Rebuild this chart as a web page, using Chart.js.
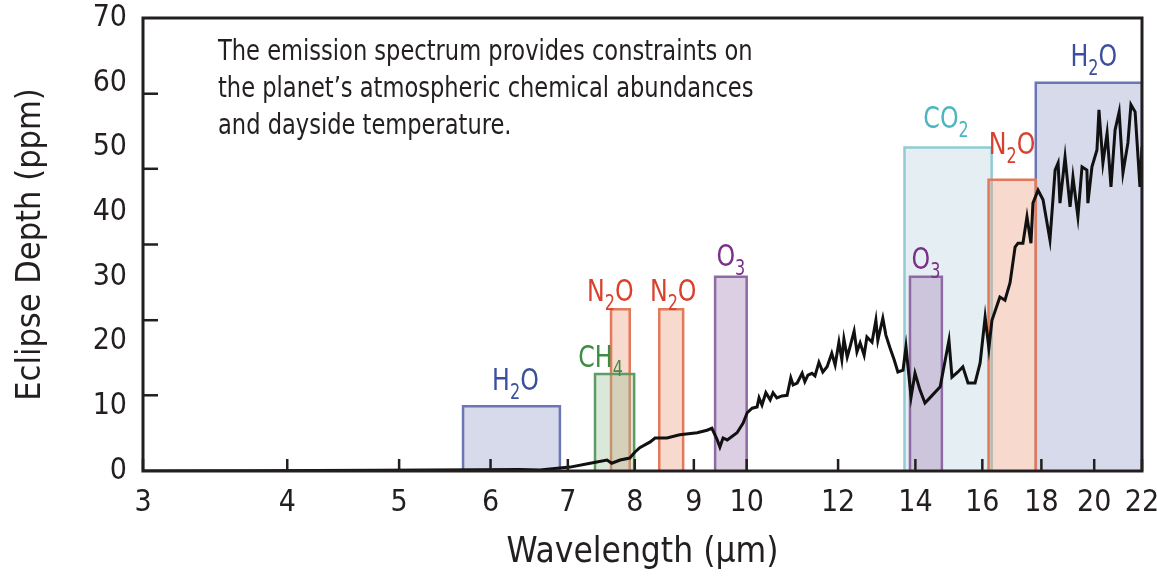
<!DOCTYPE html>
<html>
<head>
<meta charset="utf-8">
<script src="https://cdn.jsdelivr.net/npm/chart.js@4.4.1/dist/chart.umd.min.js"></script>
<style>
  html, body { margin: 0; padding: 0; background: #fff; }
  #wrap { width: 1157px; height: 580px; }
</style>
</head>
<body>
<div id="wrap"><canvas id="spectrum"></canvas></div>
<script>
// emission spectrum: wavelength (um) / eclipse depth (ppm)
const wavelength = [
  3.00, 3.71, 4.81, 5.32, 5.88, 6.36, 6.62, 6.89, 7.03, 7.32,
  7.57, 7.64, 7.77, 7.92, 8.00, 8.08, 8.25, 8.33, 8.53, 8.75,
  9.06, 9.24, 9.33, 9.43, 9.48, 9.54, 9.62, 9.81, 9.93,
  10.01, 10.11, 10.21, 10.25, 10.31, 10.39, 10.48, 10.54, 10.62, 10.73,
  10.84, 10.92, 10.97, 11.06, 11.17, 11.23, 11.30, 11.39, 11.46, 11.55,
  11.64, 11.74, 11.85, 11.93, 12.02, 12.09, 12.14, 12.22, 12.29, 12.39,
  12.46, 12.54, 12.64, 12.71, 12.84, 12.94, 12.99, 13.12, 13.20, 13.31,
  13.42, 13.52, 13.66, 13.74,
  13.88, 13.99, 14.13, 14.27, 14.41, 14.71, 14.97, 15.06, 15.24, 15.39,
  15.55, 15.77, 15.93, 16.09, 16.21, 16.31, 16.57, 16.74, 16.91, 17.08,
  17.18, 17.35, 17.49, 17.63, 17.70, 17.88, 18.06, 18.31, 18.50, 18.61,
  18.68, 18.87, 19.06, 19.17, 19.36, 19.52, 19.71, 19.75, 19.91, 20.11,
  20.19, 20.35, 20.52, 20.68, 20.85, 21.02, 21.18, 21.39, 21.52, 21.70,
  21.91, 22.00
];
const depth = [
  0.0, 0.05, 0.1, 0.15, 0.2, 0.25, 0.15, 0.46, 0.6, 1.2,
  1.7, 1.2, 1.7, 2.0, 2.9, 3.6, 4.5, 5.1, 5.1, 5.6,
  5.9, 6.3, 6.6, 4.8, 3.7, 5.1, 4.8, 5.9, 7.4,
  9.0, 9.7, 9.9, 11.3, 10.2, 12.1, 11.0, 12.1, 11.3, 11.6,
  11.7, 14.4, 13.3, 13.6, 15.1, 13.8, 14.8, 15.1, 14.7, 16.8,
  15.3, 16.1, 18.2, 16.4, 19.9, 17.2, 20.4, 17.6, 19.2, 21.6,
  18.4, 19.8, 17.9, 20.7, 19.9, 23.3, 20.2, 23.6, 21.0, 19.0,
  17.2, 15.3, 15.6, 19.2,
  11.4, 15.1, 12.5, 10.5, 11.3, 13.0, 20.2, 14.5, 15.3, 16.1,
  13.6, 13.6, 16.7, 23.8, 19.0, 23.3, 26.9, 26.4, 29.1, 34.6,
  35.2, 35.2, 39.3, 35.2, 41.4, 43.4, 41.9, 35.7, 46.5, 47.6,
  41.4, 48.5, 40.8, 45.4, 39.3, 47.0, 46.5, 41.4, 47.0, 49.6,
  55.8, 47.6, 52.2, 43.9, 52.7, 55.5, 46.1, 50.7, 56.6, 55.5,
  43.9, 50.1
];

// absorption bands
const bandNames = ['H2O', 'CH4', 'N2O', 'N2O', 'O3', 'CO2', 'O3', 'N2O', 'H2O'];
const bandStart = [5.68, 7.39, 7.63, 8.40, 9.39, 13.7, 13.85, 16.2, 17.8];
const bandEnd   = [6.89, 7.99, 7.92, 8.81, 10.0, 16.3, 14.76, 17.8, 22.0];
const bandTop   = [10, 15, 25, 25, 30, 50, 30, 45, 60];

const xTicks = [3, 4, 5, 6, 7, 8, 9, 10, 12, 14, 16, 18, 20, 22];
const yTickMarks = [11.7, 23.3, 35, 46.7, 58.3];

const note = [
  'The emission spectrum provides constraints on',
  'the planet\u2019s atmospheric chemical abundances',
  'and dayside temperature.'
];

const molColors = {
  H2O: { line: '#6b77b5', fill: 'rgba(160,166,204,0.42)', text: '#3b4f9e' },
  CH4: { line: '#5e9c63', fill: 'rgba(150,192,150,0.36)', text: '#3d8b46' },
  N2O: { line: '#e2795b', fill: 'rgba(236,160,130,0.40)', text: '#d9402e' },
  O3:  { line: '#8d6aa3', fill: 'rgba(168,136,184,0.40)', text: '#7a2f88' },
  CO2: { line: '#93cbd3', fill: 'rgba(182,212,222,0.36)', text: '#4cb5c0' }
};
// label offsets (dx, gap above box) in px
const labelNudge = [[4, 16], [-14, 7], [-10, 8], [2, 8], [0, 11], [-2, 19], [0, 8], [0, 26], [5, 17]];

const FONT = "'DejaVu Sans Condensed', 'Liberation Sans', sans-serif";
const INK = '#231f20';

// narrow text: the original uses a condensed face
function squeezeText(ctx, text, x, y, sx) {
  ctx.save();
  ctx.translate(x, y);
  ctx.scale(sx, 1);
  ctx.fillText(text, 0, 0);
  ctx.restore();
}

const bandSets = bandNames.map(function (name, i) {
  const c = molColors[name];
  return {
    data: [
      { x: bandStart[i], y: 0 }, { x: bandStart[i], y: bandTop[i] },
      { x: bandEnd[i], y: bandTop[i] }, { x: bandEnd[i], y: 0 }
    ],
    borderColor: c.line,
    backgroundColor: c.fill,
    borderWidth: 2.5,
    fill: 'origin',
    pointRadius: 0,
    tension: 0,
    order: name === 'CO2' ? 3 : 2
  };
});

const frameAndLabels = {
  id: 'frameAndLabels',
  afterDatasetsDraw(chart) {
    const ctx = chart.ctx;
    const a = chart.chartArea;
    const xs = chart.scales.x, ys = chart.scales.y;
    ctx.save();
    // frame
    ctx.strokeStyle = INK;
    ctx.lineWidth = 3;
    ctx.strokeRect(a.left, a.top, a.right - a.left, a.bottom - a.top);
    // inward tick marks
    ctx.lineWidth = 2.5;
    xTicks.forEach(function (v) {
      const px = xs.getPixelForValue(v);
      ctx.beginPath(); ctx.moveTo(px, a.bottom); ctx.lineTo(px, a.bottom - 12); ctx.stroke();
    });
    yTickMarks.forEach(function (v) {
      const py = ys.getPixelForValue(v);
      ctx.beginPath(); ctx.moveTo(a.left, py); ctx.lineTo(a.left + 15, py); ctx.stroke();
    });
    // band labels with subscripts
    const sx = 0.85;
    ctx.textBaseline = 'alphabetic';
    ctx.textAlign = 'left';
    bandNames.forEach(function (name, i) {
      const parts = name.match(/[A-Z]+|\d+/g);
      const cx = xs.getPixelForValue(Math.sqrt(bandStart[i] * bandEnd[i])) + labelNudge[i][0];
      const base = ys.getPixelForValue(bandTop[i]) - labelNudge[i][1];
      let w = 0;
      parts.forEach(function (p) {
        ctx.font = (/\d/.test(p) ? '21px ' : '31px ') + FONT;
        w += ctx.measureText(p).width * sx;
      });
      let x0 = cx - w / 2;
      ctx.fillStyle = molColors[name].text;
      parts.forEach(function (p) {
        const sub = /\d/.test(p);
        ctx.font = (sub ? '21px ' : '31px ') + FONT;
        squeezeText(ctx, p, x0, base + (sub ? 9 : 0), sx);
        x0 += ctx.measureText(p).width * sx;
      });
    });
    // note text
    ctx.fillStyle = INK;
    ctx.font = '29px ' + FONT;
    note.forEach(function (line, k) {
      squeezeText(ctx, line, a.left + 75, a.top + 42 + k * 37, 0.865);
    });
    ctx.restore();
  }
};

new Chart(document.getElementById('spectrum'), {
  type: 'line',
  data: {
    datasets: [{
      data: wavelength.map(function (w, i) { return { x: w, y: depth[i] }; }),
      borderColor: '#111111',
      borderWidth: 3,
      pointRadius: 0,
      tension: 0,
      fill: false,
      order: 0
    }].concat(bandSets)
  },
  options: {
    responsive: true,
    maintainAspectRatio: false,
    animation: false,
    layout: { padding: { left: 0, right: 15, top: 18, bottom: 0 } },
    plugins: { legend: { display: false }, tooltip: { enabled: false } },
    scales: {
      x: {
        type: 'logarithmic',
        min: 3,
        max: 22,
        afterBuildTicks: function (s) { s.ticks = xTicks.map(function (v) { return { value: v }; }); },
        afterFit: function (s) { s.height = 109; s.paddingLeft = 0; s.paddingRight = 0; },
        grid: { display: false, drawTicks: false },
        border: { display: false },
        ticks: {
          autoSkip: false, maxRotation: 0, padding: 14,
          color: INK, font: { family: FONT, size: 30 },
          callback: function (v) { return String(v); }
        },
        title: {
          display: true, text: 'Wavelength (\u03bcm)', color: INK,
          font: { family: FONT, size: 35 }, padding: { top: 0, bottom: 6 }
        }
      },
      y: {
        min: 0,
        max: 70,
        afterFit: function (s) { s.width = 143; s.paddingTop = 0; s.paddingBottom = 0; },
        grid: { display: false, drawTicks: false },
        border: { display: false },
        ticks: { stepSize: 10, padding: 16, color: INK, font: { family: FONT, size: 30 } },
        title: {
          display: true, text: 'Eclipse Depth (ppm)', color: INK,
          font: { family: FONT, size: 34 }, padding: { top: 11, bottom: 8 }
        }
      }
    }
  },
  plugins: [frameAndLabels]
});
</script>
</body>
</html>
